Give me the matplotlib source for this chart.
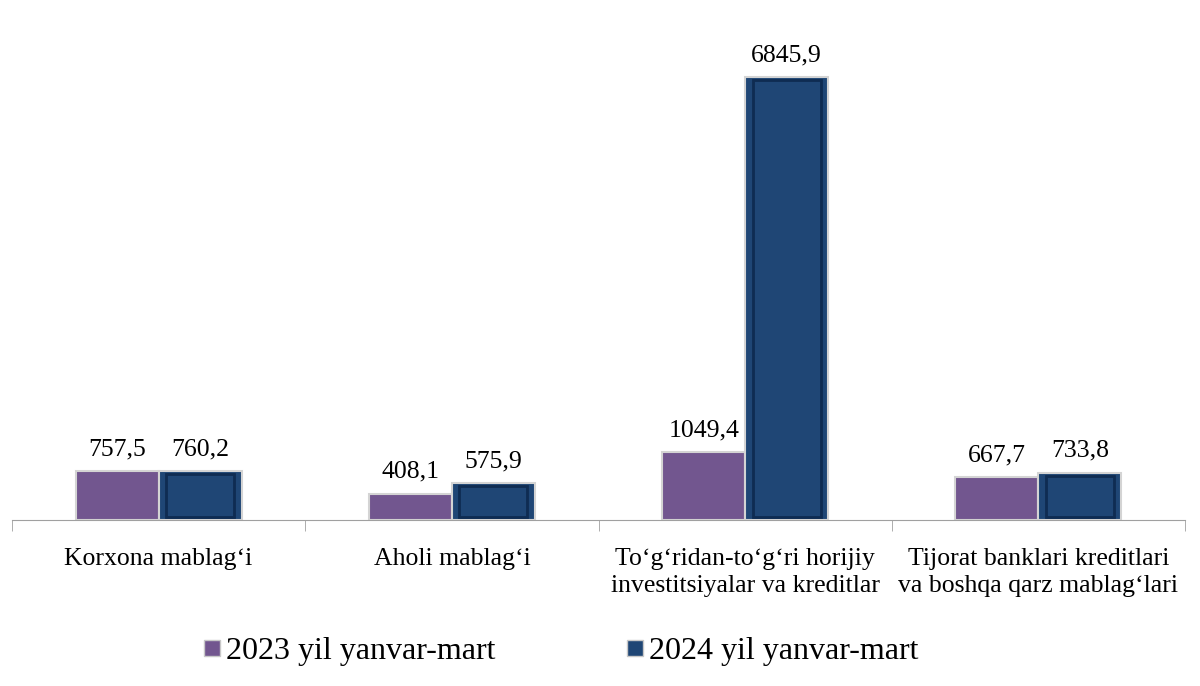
import numpy as np
import matplotlib.pyplot as plt
from matplotlib.lines import Line2D

categories = ["Korxona mablag‘i", "Aholi mablag‘i",
              "To‘g‘ridan-to‘g‘ri horijiy\ninvestitsiyalar va kreditlar",
              "Tijorat banklari kreditlari\nva boshqa qarz mablag‘lari"]
v2023 = [757.5, 408.1, 1049.4, 667.7]
v2024 = [760.2, 575.9, 6845.9, 733.8]
series_names = ["2023 yil yanvar-mart", "2024 yil yanvar-mart"]

plt.rcParams['font.family'] = ['Liberation Serif', 'DejaVu Serif']

purple = '#72568f'
blue = '#1f4675'
blue_dark = '#0f2c52'

fig = plt.figure(figsize=(12, 6.86), dpi=100)
ax = fig.add_axes([0.01, 0.242, 0.9775, 0.714])

x = np.arange(len(categories))
w = 0.283
b1 = ax.bar(x - w/2, v2023, w, color=purple, edgecolor='#d4d4d4', linewidth=1.5, zorder=2)
b2 = ax.bar(x + w/2, v2024, w, color=blue, edgecolor='#d4d4d4', linewidth=1.5, zorder=2)

# inner bevel look on the 2024 bars
vals = np.array(v2024)
ax.bar(x + w/2, vals - vals.max() * 0.014, w * 0.82,
       bottom=vals.max() * 0.007, color='none', edgecolor=blue_dark, linewidth=2.0, zorder=3)

for bars in (b1, b2):
    for r in bars:
        h = r.get_height()
        ax.text(r.get_x() + r.get_width() / 2, h + 165, f"{h:.1f}".replace('.', ','),
                ha='center', va='bottom', fontsize=18.5, color='black')

ax.set_xlim(-0.5, 3.5)
ax.set_ylim(0, 7570)
ax.set_xticks(x)
ax.set_xticklabels(categories, fontsize=18.5, linespacing=1.3)
ax.tick_params(axis='x', length=0, pad=20)
ax.set_xticks(np.arange(-0.5, 4, 1), minor=True)
ax.tick_params(axis='x', which='minor', length=8, color='#a0a0a0', direction='out')
ax.set_yticks([])
for s in ['top', 'right', 'left']:
    ax.spines[s].set_visible(False)
ax.spines['bottom'].set_color('#a0a0a0')

handles = [Line2D([], [], marker='s', linestyle='none', markersize=12,
                  markerfacecolor=purple, markeredgecolor='#c8c8c8'),
           Line2D([], [], marker='s', linestyle='none', markersize=12,
                  markerfacecolor=blue, markeredgecolor='#c8c8c8')]
fig.legend(handles, series_names, loc='center', bbox_to_anchor=(0.465, 0.051),
           ncol=2, frameon=False, fontsize=23, handletextpad=0.0,
           columnspacing=3.9, handlelength=0.9)

fig.savefig('out.png', dpi=100)
